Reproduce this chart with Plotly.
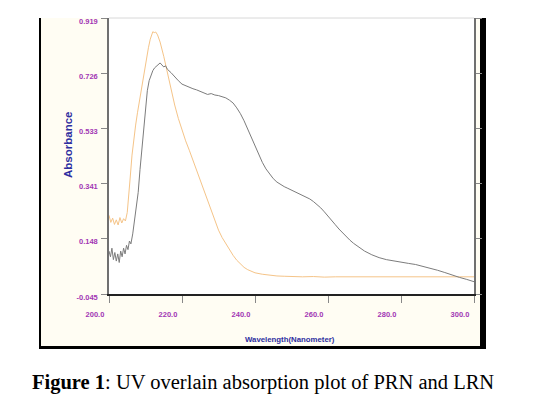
import plotly.graph_objects as go

# ---- data ----
lrn_wl = [200.0, 200.5, 201.0, 201.5, 202.0, 202.5, 203.0, 203.5, 204.0, 204.5,
          205.0, 205.4, 205.8, 206.3, 206.8, 207.3, 207.8, 208.3, 208.8, 209.3,
          209.8, 210.3, 210.8, 211.3, 211.7, 212.0, 212.4, 212.8, 213.3, 214.0,
          215.0, 216.0, 217.0, 218.0, 219.0, 220.0, 221.0, 222.0, 223.0, 224.0,
          225.0, 226.0, 227.0, 228.0, 229.0, 230.0, 231.0, 232.0, 233.0, 234.0,
          235.0, 236.0, 237.0, 238.0, 239.0, 240.0, 242.0, 244.0, 246.0, 248.0,
          250.0, 253.0, 256.0, 259.0, 262.0, 265.0, 268.0, 271.0, 274.0, 277.0,
          280.0, 283.0, 286.0, 289.0, 292.0, 295.0, 298.0, 300.0]
lrn_abs = [0.230, 0.205, 0.220, 0.198, 0.214, 0.196, 0.222, 0.203, 0.218, 0.210,
           0.240, 0.290, 0.360, 0.440, 0.500, 0.545, 0.588, 0.628, 0.668, 0.710,
           0.748, 0.782, 0.815, 0.845, 0.862, 0.871, 0.868, 0.870, 0.860, 0.835,
           0.785, 0.727, 0.668, 0.615, 0.568, 0.527, 0.490, 0.457, 0.422, 0.387,
           0.352, 0.314, 0.278, 0.243, 0.208, 0.178, 0.152, 0.130, 0.110, 0.090,
           0.073, 0.059, 0.048, 0.040, 0.034, 0.029, 0.024, 0.020, 0.018, 0.017,
           0.016, 0.015, 0.016, 0.014, 0.015, 0.015, 0.014, 0.016, 0.015, 0.014,
           0.015, 0.016, 0.014, 0.015, 0.016, 0.015, 0.016, 0.015]

prn_wl = [200.0, 200.4, 200.8, 201.2, 201.6, 202.0, 202.4, 202.8, 203.2, 203.6,
          204.0, 204.4, 204.8, 205.2, 205.6, 206.0, 206.5, 207.0, 207.5, 208.0,
          208.5, 209.0, 209.5, 210.0, 210.5, 211.0, 211.5, 212.0, 212.5, 213.0,
          213.5, 214.0, 214.5, 215.0, 215.5, 216.0, 217.0, 218.0, 219.0, 220.0,
          221.0, 222.0, 223.0, 224.0, 225.0, 226.0, 227.0, 228.0, 229.0, 230.0,
          231.0, 232.0, 233.0, 234.0, 235.0, 236.0, 237.0, 238.0, 239.0, 240.0,
          241.0, 242.0, 243.0, 244.0, 245.0, 246.0, 247.0, 248.0, 249.0, 250.0,
          251.0, 252.0, 253.0, 254.0, 255.0, 256.0, 257.0, 258.0, 259.0, 260.0,
          261.0, 262.0, 263.0, 264.0, 265.0, 266.0, 267.0, 268.0, 269.0, 270.0,
          272.0, 274.0, 276.0, 278.0, 280.0, 282.0, 284.0, 286.0, 288.0, 290.0,
          292.0, 294.0, 296.0, 298.0, 300.0]
prn_abs = [0.105, 0.085, 0.115, 0.075, 0.100, 0.070, 0.095, 0.065, 0.105, 0.085,
           0.115, 0.095, 0.125, 0.110, 0.140, 0.130, 0.165, 0.215, 0.260, 0.310,
           0.390, 0.460, 0.540, 0.620, 0.665, 0.700, 0.720, 0.735, 0.745, 0.750,
           0.758, 0.762, 0.755, 0.748, 0.752, 0.740, 0.728, 0.712, 0.700, 0.688,
           0.682, 0.676, 0.672, 0.668, 0.662, 0.658, 0.652, 0.655, 0.650, 0.648,
           0.645, 0.640, 0.632, 0.622, 0.605, 0.585, 0.560, 0.530, 0.500, 0.470,
           0.440, 0.415, 0.392, 0.373, 0.358, 0.346, 0.337, 0.330, 0.324, 0.318,
           0.312, 0.307, 0.300, 0.294, 0.287, 0.278, 0.268, 0.256, 0.242, 0.228,
           0.213, 0.197, 0.182, 0.168, 0.155, 0.143, 0.132, 0.122, 0.113, 0.105,
           0.092, 0.082, 0.075, 0.070, 0.066, 0.062, 0.058, 0.052, 0.046, 0.038,
           0.030, 0.021, 0.013, 0.006, -0.002]

x_ticks = [200, 220, 240, 260, 280, 300]
x_ticktext = ["200.0", "220.0", "240.0", "260.0", "280.0", "300.0"]
y_ticks = [-0.045, 0.148, 0.341, 0.533, 0.726, 0.919]
y_ticktext = ["-0.045", "0.148", "0.341", "0.533", "0.726", "0.919"]

x_title = "Wavelength(Nanometer)"
y_title = "Absorbance"
caption_bold = "Figure 1"
caption_rest = ": UV overlain absorption plot of PRN and LRN"

# ---- figure ----
W, H = 540, 399
L, R, T, B = 109, 66, 18, 105
pw, ph = W - L - R, H - T - B


def px(xp):
    return (xp - L) / pw


def py(yp):
    return (H - B - yp) / ph


fig = go.Figure()
fig.add_trace(go.Scatter(x=lrn_wl, y=lrn_abs, mode="lines", name="LRN",
                         line=dict(color="#F5C488", width=1)))
fig.add_trace(go.Scatter(x=prn_wl, y=prn_abs, mode="lines", name="PRN",
                         line=dict(color="#7C7C7C", width=1)))

shapes = [
    # black frame / shadow of the instrument window
    dict(type="rect", xref="paper", yref="paper", x0=px(39), x1=px(486), y0=py(349), y1=py(18),
         fillcolor="#000000", line=dict(width=0), layer="below"),
    # cream window background
    dict(type="rect", xref="paper", yref="paper", x0=px(41), x1=px(480), y0=py(346), y1=py(18),
         fillcolor="#FFFDF3", line=dict(width=0), layer="below"),
    # white plot area
    dict(type="rect", xref="paper", yref="paper", x0=0, x1=1, y0=0, y1=1,
         fillcolor="#FFFFFF", line=dict(width=0), layer="below"),
    # faint top border
    dict(type="line", xref="paper", yref="paper", x0=0, x1=1, y0=1, y1=1,
         line=dict(color="#D8D8D8", width=1), layer="below"),
]

tick_font = dict(family="Liberation Sans, Arial", size=7.5, color="#A236B4", weight="bold")

fig.update_layout(
    width=W, height=H,
    margin=dict(l=L, r=R, t=T, b=B),
    paper_bgcolor="#FFFFFF", plot_bgcolor="#FFFFFF",
    showlegend=False,
    shapes=shapes,
    xaxis=dict(range=[200, 300], tickvals=x_ticks, ticktext=x_ticktext,
               showgrid=False, zeroline=False, showline=True, linecolor="#222222", linewidth=1.5,
               ticks="outside", ticklen=7, tickcolor="#888888", tickwidth=1,
               tickfont=tick_font, ticklabelshift=-14, ticklabelstandoff=5),
    yaxis=dict(range=[-0.045, 0.919], tickvals=y_ticks, ticktext=y_ticktext,
               showgrid=False, zeroline=False, showline=True, linecolor="#707070", linewidth=1.5,
               mirror="ticks",
               ticks="outside", ticklen=6, tickcolor="#888888", tickwidth=1,
               tickfont=tick_font, ticklabelshift=3, ticklabelstandoff=2),
    annotations=[
        dict(text=x_title, xref="paper", yref="paper", x=px(290), y=py(339),
             showarrow=False, xanchor="center", yanchor="middle",
             font=dict(family="Liberation Sans, Arial", size=7.8, color="#2E2EA0", weight="bold")),
        dict(text=y_title, xref="paper", yref="paper", x=px(68), y=py(145),
             showarrow=False, xanchor="center", yanchor="middle", textangle=-90,
             font=dict(family="Liberation Sans, Arial", size=11.5, color="#2E2EA0", weight="bold")),
        dict(text="<b>" + caption_bold + "</b>" + caption_rest, xref="paper", yref="paper",
             x=px(262.5), y=py(383), showarrow=False, xanchor="center", yanchor="middle",
             font=dict(family="Liberation Serif, Times New Roman", size=20.5, color="#000000")),
    ],
)

fig.write_html("out.html", config={"displayModeBar": False},
               post_script="document.body.style.margin='0px';")
